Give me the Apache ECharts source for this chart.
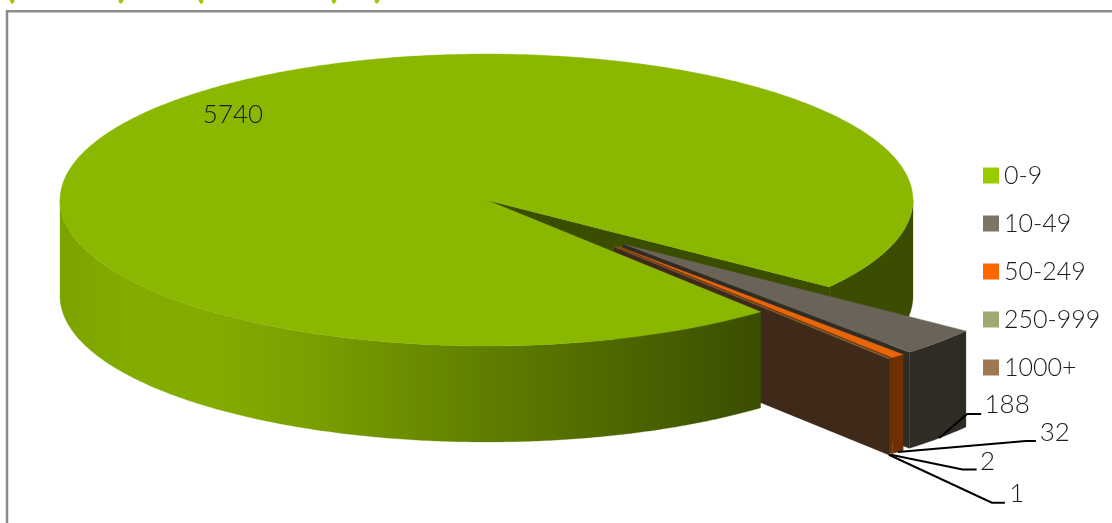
<!DOCTYPE html>
<html>
<head>
<meta charset="utf-8">
<style>html,body{margin:0;padding:0;background:#fff}#c{width:1112px;height:523px}</style>
<script src="https://cdn.jsdelivr.net/npm/echarts@6/dist/echarts.min.js"></script>
</head>
<body>
<div id="c"></div>
<script>
// ---- data ----
var categories = ['0-9', '10-49', '50-249', '250-999', '1000+'];
var values = [5740, 188, 32, 2, 1];

// ---- colours ----
var legendColors = ['#99cc00', '#7d7465', '#ff6600', '#9fa873', '#a0784f'];
var topColors = ['#8ab800', '#6b6357', '#e8650a', '#8c9462', '#8c6a46'];
var sideColors = ['#3a4d00', '#2f2b25', '#6e3000', '#3f4228', '#3f2a1a'];

// ---- layout of the tilted pie ----
var FONT = 'Lato, "Open Sans", sans-serif';
var CX = 486.5, CY = 200, RX = 426.5, RY = 146, DEPTH = 96;
var START = 50, EXPLODE = [0, 0.44, 0.44, 0.44, 0.44], DIR_SHIFT = [0, 1, -3, -3, -3];
// label layout relative to each slice's anchor: elbow dx, dy, end dx, label dx, dy
var LABEL_LAYOUT = [null, [28, -24, 42, 68, -33], [128, -11, 138, 157, -19], [73, 15, 87, 98, 7], [103, 48, 116, 128, 39]];
var MAIN_LABEL = [-253.5, -85];

var total = values.reduce(function (a, b) { return a + b; }, 0);
var angles = [];
(function () {
  var a = START;
  values.forEach(function (v) { var s = v / total * 360; angles.push([a, a + s]); a += s; });
})();
function rad(d) { return d * Math.PI / 180; }
function center(i) {
  var m = (angles[i][0] + angles[i][1]) / 2 + DIR_SHIFT[i], e = EXPLODE[i];
  return [CX + e * RX * Math.cos(rad(m)), CY + e * RY * Math.sin(rad(m))];
}
function pt(c, a, dz) { return [c[0] + RX * Math.cos(rad(a)), c[1] + RY * Math.sin(rad(a)) + (dz || 0)]; }
function arc(c, a, b, dz) {
  var out = [], n = Math.max(2, Math.ceil(Math.abs(b - a) * 2));
  for (var k = 0; k <= n; k++) out.push(pt(c, a + (b - a) * k / n, dz));
  return out;
}
function poly(points, fill) {
  return { type: 'polygon', shape: { points: points }, style: { fill: fill, stroke: fill, lineWidth: 0.3 } };
}
function topShape(i) {
  var c = center(i);
  return poly([c].concat(arc(c, angles[i][0], angles[i][1], 0)), topColors[i]);
}
function rimShape(c, a, b, fill) {
  return poly(arc(c, a, b, 0).concat(arc(c, a, b, DEPTH).reverse()), fill);
}
function endFace(i) {
  var c = center(i), p = pt(c, angles[i][1], 0);
  return poly([c, p, [p[0], p[1] + DEPTH], [c[0], c[1] + DEPTH]], sideColors[i]);
}
var frontGradient = new echarts.graphic.LinearGradient(60, 0, 761, 0, [
  { offset: 0, color: '#7ba300' }, { offset: 0.08, color: '#82ab00' }, { offset: 0.2, color: '#84ad00' },
  { offset: 0.36, color: '#7a9f00' }, { offset: 0.61, color: '#5f7e00' }, { offset: 1, color: '#3a4d00' }
], true);

function renderBack(params, api) {
  api.value(0);
  var c = center(0), end = angles[0][1];
  return { type: 'group', children: [ rimShape(c, 0, end - 360, sideColors[0]), endFace(0) ] };
}
function renderSlice(i) {
  return function (params, api) {
    api.value(0);
    var c = center(i), a = angles[i];
    return { type: 'group', children: [ endFace(i), rimShape(c, a[0], a[1], sideColors[i]), topShape(i) ] };
  };
}
function renderMain(params, api) {
  api.value(0);
  var c = center(0);
  return { type: 'group', children: [ rimShape(c, angles[0][0], 180, frontGradient), topShape(0) ] };
}
function renderLabels(params, api) {
  var i = params.dataIndex, v = api.value(0);
  var textStyle = { text: String(v), font: '300 26px ' + FONT, fill: '#1c1c1c', align: 'center', verticalAlign: 'middle' };
  if (i === 0) {
    textStyle.x = CX + MAIN_LABEL[0]; textStyle.y = CY + MAIN_LABEL[1];
    return { type: 'text', style: textStyle };
  }
  var a = angles[i], m = (a[0] + a[1]) / 2, anchor = pt(center(i), m, DEPTH), l = LABEL_LAYOUT[i];
  textStyle.x = anchor[0] + l[3]; textStyle.y = anchor[1] + l[4];
  return { type: 'group', children: [
    { type: 'polyline', shape: { points: [anchor, [anchor[0] + l[0], anchor[1] + l[1]], [anchor[0] + l[2], anchor[1] + l[1]]] },
      style: { stroke: '#000', lineWidth: 2, fill: null } },
    { type: 'text', style: textStyle }
  ] };
}

var series = [
  { type: 'custom', name: 'back', coordinateSystem: 'none', z: 1, silent: true, data: [values[0]], renderItem: renderBack }
];
categories.forEach(function (name, i) {
  series.push({
    type: 'custom', name: name, coordinateSystem: 'none', silent: true,
    z: i === 0 ? 10 : 2 + i,
    itemStyle: { color: legendColors[i] },
    data: [values[i]],
    renderItem: i === 0 ? renderMain : renderSlice(i)
  });
});
series.push({ type: 'custom', name: 'labels', coordinateSystem: 'none', z: 20, silent: true, data: values, renderItem: renderLabels });

var titleGlyphs = [['(', 11], [')', 122], ['(', 200], [')', 335], [')', 378]];

var chart = echarts.init(document.getElementById('c'), null, { renderer: 'canvas' });
chart.setOption({
  animation: false,
  backgroundColor: '#fff',
  legend: {
    data: categories, orient: 'vertical', left: 983, top: 163, padding: 0,
    itemWidth: 16, itemHeight: 16, itemGap: 23, icon: 'rect', selectedMode: false,
    textStyle: { fontFamily: FONT, fontWeight: 300, fontSize: 25, color: '#1c1c1c', lineHeight: 22, padding: [0, 0, 0, 0] }
  },
  graphic: [
    { type: 'polyline', z: 0, silent: true, shape: { points: [[7, 523], [7, 11.3], [1112, 11.3]] },
      style: { stroke: '#8c8c8c', lineWidth: 2.5, fill: null } }
  ].concat(titleGlyphs.map(function (g) {
    return { type: 'text', silent: true, x: g[1], y: 3, style: { text: g[0], font: 'bold 24px ' + FONT, fill: '#99cc00', stroke: '#99cc00', lineWidth: 1.5, align: 'center', verticalAlign: 'bottom' } };
  })),
  series: series
});
</script>
</body>
</html>
